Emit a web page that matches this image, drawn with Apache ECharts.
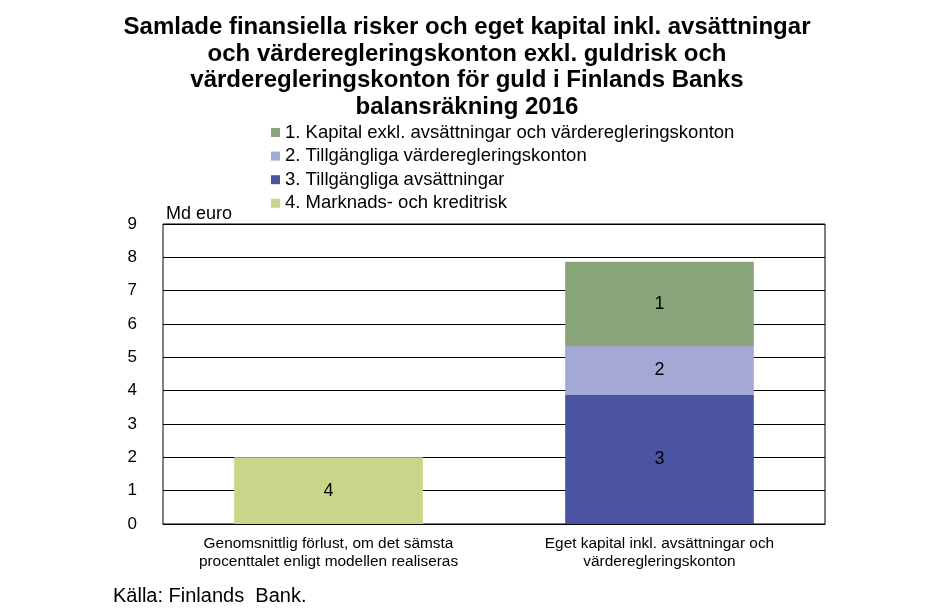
<!DOCTYPE html>
<html><head><meta charset="utf-8">
<script src="https://cdn.jsdelivr.net/npm/echarts@6/dist/echarts.min.js"></script>
<style>html,body{margin:0;padding:0;background:#fff}#c{width:934px;height:610px}</style>
</head><body><div id="c"></div>
<script>
var categories = ['Genomsnittlig förlust, om det sämsta\nprocenttalet enligt modellen realiseras', 'Eget kapital inkl. avsättningar och\nvärderegleringskonton'];
var seriesNames = ['1. Kapital exkl. avsättningar och värderegleringskonton', '2. Tillgängliga värderegleringskonton', '3. Tillgängliga avsättningar', '4. Marknads- och kreditrisk'];
var seriesLabels = ['1', '2', '3', '4'];
var s1 = [null, 2.53];
var s2 = [null, 1.47];
var s3 = [null, 3.87];
var s4 = [2.0, null];
var yTicks = [0, 1, 2, 3, 4, 5, 6, 7, 8, 9];
var colors = ['#8BA57A', '#A3A8D4', '#4B54A3', '#C9D68A'];
var font = 'Liberation Sans, Arial, sans-serif';

var chart = echarts.init(document.getElementById('c'));
function mk(i, data) {
  return {
    name: seriesNames[i], type: 'bar', stack: 'all', data: data, barWidth: '57%',
    itemStyle: { color: colors[i] },
    label: { show: true, position: 'inside', formatter: seriesLabels[i], color: '#000', fontSize: 18, fontFamily: font }
  };
}
chart.setOption({
  animation: false,
  title: {
    text: 'Samlade finansiella risker och eget kapital inkl. avsättningar\noch värderegleringskonton exkl. guldrisk och\nvärderegleringskonton för guld i Finlands Banks\nbalansräkning 2016',
    left: 467, textAlign: 'center', top: 14, padding: 0,
    textStyle: { fontFamily: font, fontWeight: 'bold', fontSize: 24, lineHeight: 26.7, color: '#000' }
  },
  legend: {
    orient: 'vertical', left: 271, top: 123, padding: 0, itemWidth: 9, itemHeight: 9, itemGap: 4.6,
    icon: 'rect', data: seriesNames,
    textStyle: { fontFamily: font, fontSize: 18.5, color: '#000' }
  },
  graphic: [
    { type: 'text', left: 166, top: 205, style: { text: 'Md euro', font: '18px ' + font, fill: '#000' } },
    { type: 'text', left: 113, top: 586, style: { text: 'Källa: Finlands  Bank.', font: '20px ' + font, fill: '#000' } }
  ],
  grid: { left: 163, right: 109, top: 224, bottom: 86, show: true, borderColor: '#000', borderWidth: 1 },
  xAxis: {
    type: 'category', data: categories,
    axisLine: { lineStyle: { color: '#000' } }, axisTick: { show: false },
    axisLabel: { fontFamily: font, fontSize: 15.4, color: '#000', lineHeight: 18, margin: 11, interval: 0 }
  },
  yAxis: {
    type: 'value', min: 0, max: 9, interval: 1,
    axisLine: { show: false }, axisTick: { show: false },
    axisLabel: { fontFamily: font, fontSize: 17, color: '#000', margin: 26, formatter: function (v) { return yTicks.indexOf(v) >= 0 ? String(v) : ''; } },
    splitLine: { lineStyle: { color: '#000', width: 1 } }
  },
  series: [mk(3, s4), mk(2, s3), mk(1, s2), mk(0, s1)]
});
</script></body></html>
